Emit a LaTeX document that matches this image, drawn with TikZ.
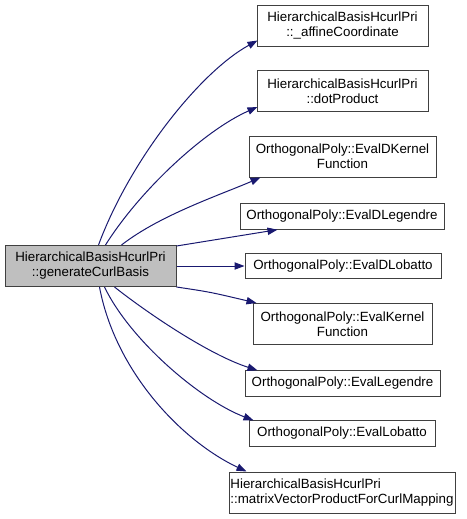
\documentclass[tikz,border=0pt]{standalone}
\usepackage{fontspec}
\setmainfont{Liberation Sans}
\usetikzlibrary{arrows.meta,calc}
\definecolor{edgeblue}{HTML}{191970}
\definecolor{srcgrey}{HTML}{BFBFBF}

\begin{document}
\begin{tikzpicture}[
x=0.75pt, y=-0.75pt,
>={Triangle[length=7.5pt,width=5.5pt]},
fn/.style={draw=black!75, line width=0.75pt, fill=white, align=center, inner sep=0pt, minimum height=30.75pt, font=\fontsize{10}{11.25}\selectfont},
fnone/.style={fn, minimum height=19pt},
call/.style={->, draw=edgeblue, line width=0.75pt}
]
\useasboundingbox (0,0) rectangle (467,519);
\node[fn, fill=srcgrey, minimum width=128.25pt] (src) at (90.5,266) {HierarchicalBasisHcurlPri\\::generateCurlBasis};
\node[fn, minimum width=128.25pt] (affine) at (342.5,25.5) {HierarchicalBasisHcurlPri\\::\_affineCoordinate};
\node[fn, minimum width=128.25pt] (dot) at (342.5,91) {HierarchicalBasisHcurlPri\\::dotProduct};
\node[fn, minimum width=140.25pt] (dker) at (342.5,156.5) {OrthogonalPoly::EvalDKernel\\Function};
\node[fnone, minimum width=153pt] (dleg) at (342,216.5) {OrthogonalPoly::EvalDLegendre};
\node[fnone, minimum width=147pt] (dlob) at (343,266) {OrthogonalPoly::EvalDLobatto};
\node[fn, minimum width=134.25pt] (kern) at (342.5,324) {OrthogonalPoly::EvalKernel\\Function};
\node[fnone, minimum width=146.25pt] (leg) at (342.5,383.5) {OrthogonalPoly::EvalLegendre};
\node[fnone, minimum width=139.5pt] (lob) at (342,433.5) {OrthogonalPoly::EvalLobatto};
\node[fn, minimum width=169.5pt, align=left] (mat) at (342,492.5) {HierarchicalBasisHcurlPri\\::matrixVectorProductForCurlMapping};
% calls
\draw[call] ($(src.north west)+(94,0)$) .. controls (130,160) and (200,72) .. ($(affine.south west)+(1,-6)$);
\draw[call] ($(src.north west)+(101,0)$) .. controls (140,190) and (205,130) .. ($(dot.south west)+(1,-5)$);
\draw[call] ($(src.north west)+(117,0)$) .. controls (160,215) and (220,195) .. ($(dker.south west)+(12,0)$);
\draw[call] ($(src.north east)+(0,1)$) -- ($(dleg.south west)+(38,0)$);
\draw[call] (src) -- (dlob);
\draw[call] (src.south east) .. controls (210,292) .. ($(kern.north west)+(4,0)$);
\draw[call] ($(src.south west)+(110,0)$) .. controls (150,315) and (210,355) .. ($(leg.north west)+(13,0)$);
\draw[call] ($(src.south west)+(100,0)$) .. controls (130,340) and (200,400) .. ($(lob.north west)+(5,0)$);
\draw[call] ($(src.south west)+(95,0)$) .. controls (115,370) and (180,440) .. ($(mat.north west)+(18,0)$);
\end{tikzpicture}
\end{document}
